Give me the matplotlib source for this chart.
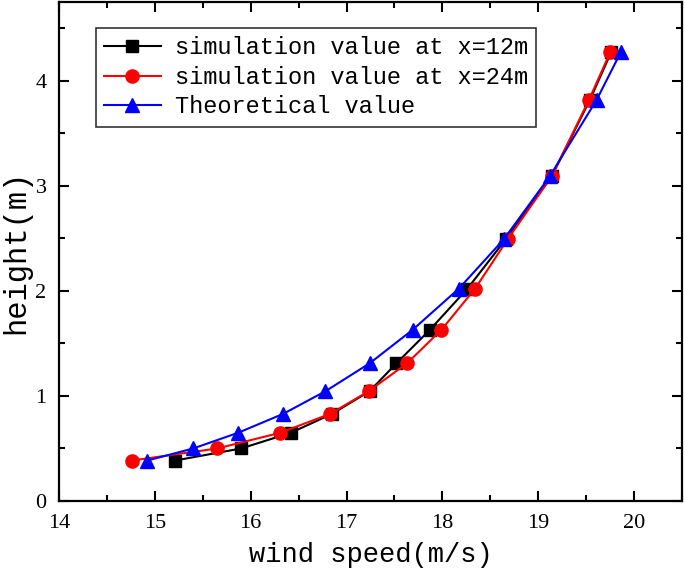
import numpy as np
import matplotlib
matplotlib.use('Agg')
import matplotlib.pyplot as plt
from matplotlib.ticker import MultipleLocator

# values
height = [0.385, 0.50, 0.65, 0.83, 1.045, 1.31, 1.63, 2.02, 2.49, 3.09, 3.82, 4.27]
v12 = [15.21, 15.90, 16.42, 16.85, 17.24, 17.52, 17.87, 18.26, 18.66, 19.14, 19.54, 19.76]
v24 = [14.76, 15.65, 16.31, 16.83, 17.23, 17.63, 17.99, 18.34, 18.68, 19.14, 19.53, 19.75]
vth = [14.92, 15.40, 15.87, 16.34, 16.78, 17.24, 17.69, 18.17, 18.64, 19.12, 19.61, 19.86]
labels = ['simulation value at x=12m', 'simulation value at x=24m', 'Theoretical value']

mono = 'Liberation Mono'
plt.rcParams['font.family'] = 'Liberation Serif'

fig = plt.figure(figsize=(6.85, 5.77), dpi=100)
ax = fig.add_axes([59 / 685, 76 / 577, 623 / 685, 499 / 577])

ax.plot(v12, height, '-s', color='black', lw=1.5, ms=8, label=labels[0])
ax.plot(v24, height, '-o', color='red', lw=1.5, ms=9.5, label=labels[1])
ax.plot(vth, height, '-^', color='blue', lw=1.5, ms=9.5, label=labels[2])

ax.set_xlim(14, 20.5)
ax.set_ylim(0, 4.75)
ax.xaxis.set_major_locator(MultipleLocator(1))
ax.xaxis.set_minor_locator(MultipleLocator(0.5))
ax.yaxis.set_major_locator(MultipleLocator(1))
ax.yaxis.set_minor_locator(MultipleLocator(0.5))
ax.tick_params(which='both', direction='in', top=True, right=True, width=1.5,
               labelsize=16)
ax.tick_params(which='major', length=7)
ax.tick_params(which='minor', length=4)
ax.tick_params(axis='x', pad=9)
ax.tick_params(axis='y', pad=9)
for s in ax.spines.values():
    s.set_linewidth(1.6)

ax.set_xlabel('wind speed(m/s)', fontfamily=mono, fontsize=19.5, labelpad=7)
ax.set_ylabel('height(m)', fontfamily=mono, fontsize=22, labelpad=3)

leg = ax.legend(loc='upper left', bbox_to_anchor=(0.059, 0.948),
                prop={'family': mono, 'size': 17}, frameon=True, fancybox=False,
                borderpad=0.35, labelspacing=0.28, handlelength=2.4,
                handletextpad=0.6, borderaxespad=0)
leg.get_frame().set_edgecolor('black')
leg.get_frame().set_linewidth(1.2)

fig.savefig('out.png', dpi=100)
